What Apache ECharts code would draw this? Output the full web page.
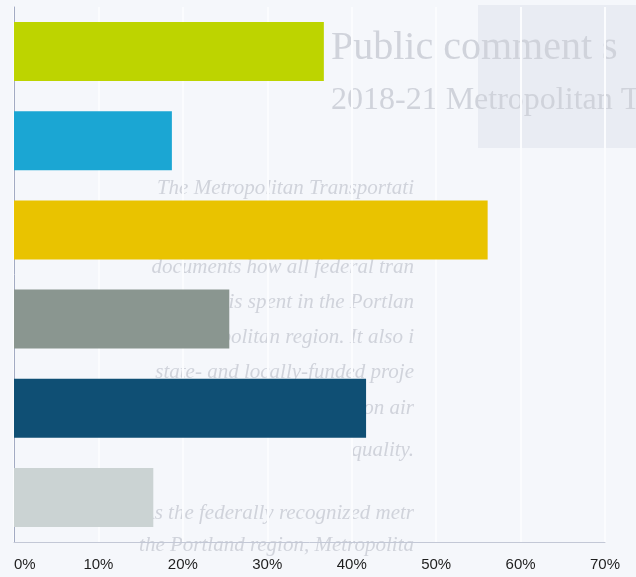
<!DOCTYPE html>
<html>
<head>
<meta charset="utf-8">
<script src="https://cdn.jsdelivr.net/npm/echarts@6/dist/echarts.min.js"></script>
<style>
  html, body { margin: 0; padding: 0; background: #f5f7fb; }
  #chart { width: 636px; height: 577px; }
</style>
</head>
<body>
<div id="chart"></div>
<script>
// Survey responses, top to bottom
const categories = ['Response 1', 'Response 2', 'Response 3', 'Response 4', 'Response 5', 'Response 6'];
const shares = [36.7, 18.7, 56.1, 25.5, 41.7, 16.5];
const barColors = ['#bdd400', '#1ba6d3', '#e9c300', '#8a9690', '#0f4f74', '#cbd3d3'];
const tickValues = [0, 10, 20, 30, 40, 50, 60, 70];

// Faint page print behind the plot
const pageTitle = ['Public comment s', '2018-21 Metropolitan T'];
const pageLines = [
  'The Metropolitan Transportati',
  'Improvement Program, or MTI',
  'documents how all federal tran',
  'money is spent in the Portlan',
  'metropolitan region. It also i',
  'state- and locally-funded proje',
  'may have an impact on air',
  'quality.'
];
const pageTail = ['As the federally recognized metr', 'the Portland region, Metropolita'];

const chart = echarts.init(document.getElementById('chart'), null, { renderer: 'canvas' });

const ink = '#d0d3db';
const lineY = [188, 229, 267, 302, 337, 372, 408, 450];
const tailY = [513, 545];
const graphics = [
  { type: 'rect', shape: { x: 478, y: 5, width: 160, height: 143 }, style: { fill: '#e9ecf3' }, z: -10 },
  {
    type: 'text', x: 331, y: 48, z: -5,
    style: { text: pageTitle[0], fill: ink, font: '40px "Liberation Serif", serif', textVerticalAlign: 'middle' }
  },
  {
    type: 'text', x: 331, y: 101, z: -5,
    style: { text: pageTitle[1], fill: ink, font: '32px "Liberation Serif", serif', textVerticalAlign: 'middle' }
  }
];
pageLines.forEach((t, i) => graphics.push({
  type: 'text', x: 414, y: lineY[i], z: -5,
  style: { text: t, fill: ink, font: 'italic 21px "Liberation Serif", serif', textAlign: 'right', textVerticalAlign: 'middle' }
}));
pageTail.forEach((t, i) => graphics.push({
  type: 'text', x: 414, y: tailY[i], z: -5,
  style: { text: t, fill: ink, font: 'italic 21px "Liberation Serif", serif', textAlign: 'right', textVerticalAlign: 'middle' }
}));

chart.setOption({
  backgroundColor: '#f5f7fb',
  animation: false,
  graphic: graphics,
  grid: { left: 14, right: 31, top: 7, bottom: 35, containLabel: false },
  xAxis: {
    type: 'value',
    min: tickValues[0],
    max: tickValues[tickValues.length - 1],
    interval: 10,
    axisLine: { show: true, lineStyle: { color: '#c3c8d6', width: 1 } },
    axisTick: { show: false },
    splitLine: { show: true, lineStyle: { color: '#fbfcfe', width: 2 } },
    axisLabel: {
      margin: 15,
      color: '#1e1e1e',
      fontSize: 15,
      fontFamily: '"Liberation Sans", Arial, sans-serif',
      alignMinLabel: 'left',
      formatter: '{value}%'
    }
  },
  yAxis: {
    type: 'category',
    data: categories,
    inverse: true,
    axisLine: { show: true, lineStyle: { color: '#a3abc3', width: 1 } },
    axisTick: { show: false },
    axisLabel: { show: false },
    splitLine: { show: false }
  },
  series: [{
    type: 'bar',
    barWidth: 59,
    data: shares.map((v, i) => ({ value: v, itemStyle: { color: barColors[i] } })),
    z: 2
  }]
});
</script>
</body>
</html>
